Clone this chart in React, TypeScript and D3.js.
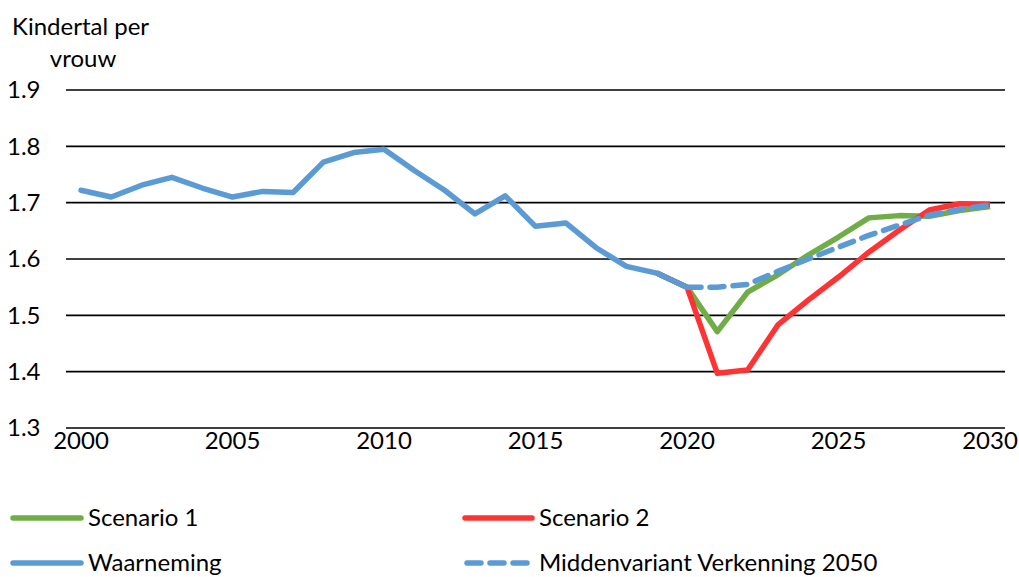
import React from "react";
import * as d3 from "d3";

const obsYears = d3.range(2000, 2021);
const waarneming = [1.722, 1.71, 1.731, 1.745, 1.726, 1.71, 1.72, 1.718, 1.772, 1.789, 1.795, 1.757, 1.722, 1.68, 1.712, 1.658, 1.664, 1.62, 1.587, 1.575, 1.55];
const scenYears = d3.range(2019, 2031);
const scenario1 = [1.575, 1.55, 1.471, 1.541, 1.572, 1.607, 1.639, 1.673, 1.677, 1.676, 1.686, 1.693];
const scenario2 = [1.575, 1.55, 1.397, 1.403, 1.483, 1.527, 1.568, 1.612, 1.651, 1.687, 1.698, 1.697];
const midYears = d3.range(2020, 2031);
const middenvariant = [1.55, 1.55, 1.555, 1.578, 1.6, 1.621, 1.642, 1.66, 1.678, 1.688, 1.696];
const yTicks = [1.3, 1.4, 1.5, 1.6, 1.7, 1.8, 1.9];
const xTicks = [2000, 2005, 2010, 2015, 2020, 2025, 2030];

const GREEN = "#70AD47";
const RED = "#FF3333";
const BLUE = "#5B9BD5";
const FONT = "Lato, 'Open Sans', sans-serif";

export default function App() {
  const W = 1019, H = 577;
  const x = d3.scaleLinear().domain([2000, 2030]).range([81, 990]);
  const y = d3.scaleLinear().domain([1.3, 1.9]).range([428, 90]);
  const line = (xs: number[], vs: number[]) =>
    d3.line<number>().x((_, i) => x(xs[i])).y((v) => y(v))(vs) as string;

  return (
    <svg width={W} height={H} style={{ position: "absolute", left: 0, top: 0, background: "#fff" }} fontFamily={FONT}>
      {yTicks.map((t) => (
        <g key={t}>
          <line x1={66} x2={1005} y1={y(t)} y2={y(t)} stroke="#000" strokeWidth={1.6} />
          <text x={7} y={y(t)} dy="0.35em" fontSize={24} fill="#000">{t.toFixed(1)}</text>
        </g>
      ))}
      {xTicks.map((t) => (
        <text key={t} x={x(t)} y={449} textAnchor="middle" fontSize={24} fill="#000">{t}</text>
      ))}
      <text x={12} y={35} fontSize={24} fill="#000">Kindertal per</text>
      <text x={83} y={67} fontSize={24} fill="#000" textAnchor="middle">vrouw</text>

      <path d={line(scenYears, scenario1)} fill="none" stroke={GREEN} strokeWidth={5.5} strokeLinejoin="round" />
      <path d={line(scenYears, scenario2)} fill="none" stroke={RED} strokeWidth={5.5} strokeLinejoin="round" />
      <path d={line(obsYears, waarneming)} fill="none" stroke={BLUE} strokeWidth={5.5} strokeLinejoin="round" strokeLinecap="round" />
      <path d={line(midYears, middenvariant)} fill="none" stroke={BLUE} strokeWidth={5.5} strokeDasharray="14 9" strokeLinecap="round" />

      <g fontSize={24} fill="#000">
        <line x1={13} x2={81} y1={518} y2={518} stroke={GREEN} strokeWidth={5.5} strokeLinecap="round" />
        <text x={88} y={518} dy="0.35em">Scenario 1</text>
        <line x1={465} x2={532} y1={518} y2={518} stroke={RED} strokeWidth={5.5} strokeLinecap="round" />
        <text x={539} y={518} dy="0.35em">Scenario 2</text>
        <line x1={13} x2={81} y1={563} y2={563} stroke={BLUE} strokeWidth={5.5} strokeLinecap="round" />
        <text x={88} y={563} dy="0.35em">Waarneming</text>
        <line x1={467} x2={532} y1={563} y2={563} stroke={BLUE} strokeWidth={5.5} strokeDasharray="14 9" strokeLinecap="round" />
        <text x={539} y={563} dy="0.35em">Middenvariant Verkenning 2050</text>
      </g>
    </svg>
  );
}
